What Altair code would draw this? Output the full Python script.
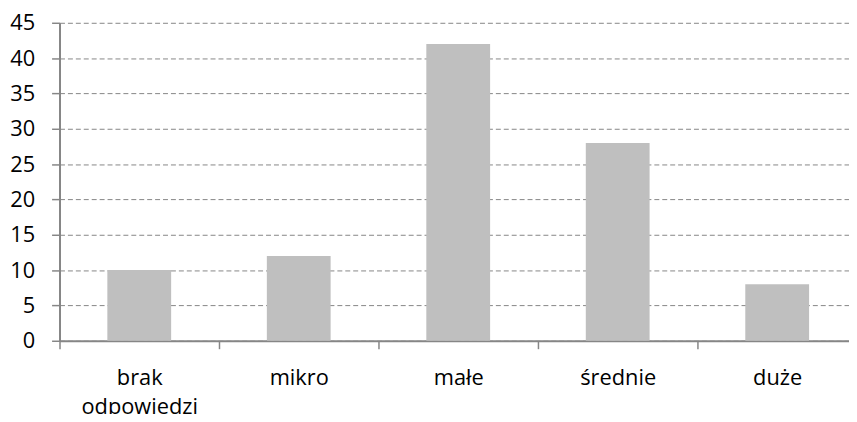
import altair as alt
import pandas as pd

categories = ["brak odpowiedzi", "mikro", "małe", "średnie", "duże"]
values = [10, 12, 42, 28, 8]
y_ticks = [0, 5, 10, 15, 20, 25, 30, 35, 40, 45]

df = pd.DataFrame({"kategoria": categories, "wartosc": values})

FONT = "Open Sans"
AXIS_COLOR = "#868686"

chart = (
    alt.Chart(df)
    .mark_bar(color="#BFBFBF", width=alt.RelativeBandSize(0.4))
    .encode(
        x=alt.X(
            "kategoria:N",
            sort=categories,
            title=None,
            scale=alt.Scale(
                paddingInner=0,
                paddingOuter=0,
                range=[0, alt.ExprRef("width * 805 / 797")],
            ),
            axis=alt.Axis(
                labelAngle=0,
                labelFont=FONT,
                labelFontSize=22,
                labelColor="#000000",
                labelPadding=19,
                labelLineHeight=29,
                labelExpr="datum.label == 'brak odpowiedzi' ? ['brak', 'odpowiedzi'] : datum.label",
                tickBand="extent",
                tickSize=8,
                tickColor=AXIS_COLOR,
                tickWidth=1.5,
                domainColor=AXIS_COLOR,
                domainWidth=2,
                grid=False,
            ),
        ),
        y=alt.Y(
            "wartosc:Q",
            title=None,
            scale=alt.Scale(domain=[0, 45], nice=False),
            axis=alt.Axis(
                values=y_ticks,
                labelFont=FONT,
                labelFontSize=22,
                labelColor="#000000",
                labelPadding=17,
                tickSize=8,
                tickColor=AXIS_COLOR,
                tickWidth=1.5,
                domainColor=AXIS_COLOR,
                domainWidth=2,
                grid=True,
                gridColor=AXIS_COLOR,
                gridDash=[5, 3],
                gridWidth=1,
            ),
        ),
    )
    .properties(
        width=797,
        height=321,
        padding={"left": 52, "top": 13, "right": 0, "bottom": 72},
        autosize=alt.AutoSizeParams(type="none"),
    )
    .configure_view(stroke=None)
)

chart.save("out.html", embed_options={"renderer": "svg", "actions": False})
